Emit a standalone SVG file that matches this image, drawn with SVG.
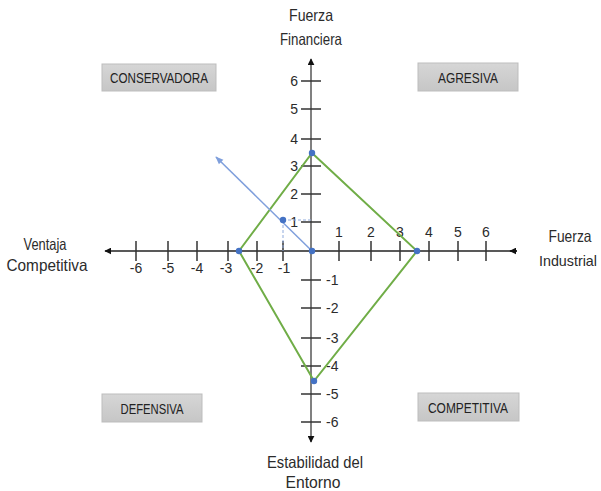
<svg xmlns="http://www.w3.org/2000/svg" width="601" height="491" viewBox="0 0 601 491">
<defs>
<linearGradient id="boxg" x1="0" y1="0" x2="0" y2="1">
<stop offset="0" stop-color="#d6d6d6"/>
<stop offset="1" stop-color="#c6c6c6"/>
</linearGradient>
<marker id="ah" viewBox="0 0 10 10" refX="9" refY="5" markerWidth="7" markerHeight="7" orient="auto-start-reverse" markerUnits="userSpaceOnUse">
<path d="M0,0 L10,5 L0,10 z" fill="#111"/>
</marker>
<marker id="bh" viewBox="0 0 10 10" refX="9" refY="5" markerWidth="8" markerHeight="8" orient="auto" markerUnits="userSpaceOnUse">
<path d="M0,1 L10,5 L0,9 z" fill="#7f9fdc"/>
</marker>
</defs>
<style>
text{font-family:"Liberation Sans",Arial,sans-serif;fill:#2b2b2b}
.t{font-size:16.5px;text-anchor:middle}
.n{font-size:14px}
.c{text-anchor:middle}
.r{text-anchor:end}
.box rect{fill:url(#boxg);stroke:#bdbdbd;stroke-width:1}
.box text{font-size:14px;text-anchor:middle;fill:#222}
.tk{stroke:#333;stroke-width:1.5}
.dot{fill:#4472c4}
</style>
<rect width="601" height="491" fill="#fff"/>

<g id="titles">
<text class="t" x="311" y="21" textLength="44" lengthAdjust="spacingAndGlyphs">Fuerza</text>
<text class="t" x="311" y="45" textLength="62" lengthAdjust="spacingAndGlyphs">Financiera</text>
<text class="t" x="45" y="250" textLength="43" lengthAdjust="spacingAndGlyphs">Ventaja</text>
<text class="t" x="47" y="271" textLength="81" lengthAdjust="spacingAndGlyphs">Competitiva</text>
<text class="t" x="570" y="242" textLength="43" lengthAdjust="spacingAndGlyphs">Fuerza</text>
<text class="t" x="568" y="266" style="font-size:14.5px" textLength="58" lengthAdjust="spacingAndGlyphs">Industrial</text>
<text class="t" x="315" y="468" textLength="96" lengthAdjust="spacingAndGlyphs">Estabilidad del</text>
<text class="t" x="313" y="488" textLength="55" lengthAdjust="spacingAndGlyphs">Entorno</text>
</g>

<g id="conservadora" class="box"><rect x="102" y="64" width="114" height="27"/><text x="159" y="82.5" textLength="98" lengthAdjust="spacingAndGlyphs">CONSERVADORA</text></g>
<g id="agresiva" class="box"><rect x="418" y="63" width="100" height="28"/><text x="468" y="82.5" textLength="60" lengthAdjust="spacingAndGlyphs">AGRESIVA</text></g>
<g id="defensiva" class="box"><rect x="102" y="394" width="100" height="28"/><text x="152" y="413.5" textLength="63" lengthAdjust="spacingAndGlyphs">DEFENSIVA</text></g>
<g id="competitiva" class="box"><rect x="418" y="393" width="101" height="28"/><text x="468" y="412.5" textLength="80" lengthAdjust="spacingAndGlyphs">COMPETITIVA</text></g>

<g id="axes">
<line x1="517" y1="251" x2="105" y2="251" stroke="#222" stroke-width="1.6" marker-end="url(#ah)"/>
<line x1="517" y1="251" x2="510" y2="251" stroke="#222" stroke-width="1.6" marker-end="url(#ah)"/>
<line x1="311" y1="442" x2="311" y2="59" stroke="#808080" stroke-width="2" marker-end="url(#ah)"/>
<line x1="311" y1="436" x2="311" y2="442" stroke="#808080" stroke-width="2" marker-end="url(#ah)"/>
<g class="tk">
<line x1="136" y1="241" x2="136" y2="261"/>
<line x1="168" y1="241" x2="168" y2="261"/>
<line x1="197" y1="241" x2="197" y2="261"/>
<line x1="228" y1="241" x2="228" y2="261"/>
<line x1="257" y1="241" x2="257" y2="261"/>
<line x1="283" y1="241" x2="283" y2="261"/>
<line x1="339" y1="241" x2="339" y2="261"/>
<line x1="371" y1="241" x2="371" y2="261"/>
<line x1="400" y1="241" x2="400" y2="261"/>
<line x1="429" y1="241" x2="429" y2="261"/>
<line x1="458" y1="241" x2="458" y2="261"/>
<line x1="486" y1="241" x2="486" y2="261"/>
<line x1="301" y1="81" x2="321" y2="81"/>
<line x1="301" y1="109" x2="321" y2="109"/>
<line x1="301" y1="139" x2="321" y2="139"/>
<line x1="301" y1="166" x2="321" y2="166"/>
<line x1="301" y1="194" x2="321" y2="194"/>
<line x1="301" y1="222" x2="321" y2="222"/>
<line x1="301" y1="280" x2="321" y2="280"/>
<line x1="301" y1="308" x2="321" y2="308"/>
<line x1="301" y1="338" x2="321" y2="338"/>
<line x1="301" y1="366" x2="321" y2="366"/>
<line x1="301" y1="394" x2="321" y2="394"/>
<line x1="301" y1="422" x2="321" y2="422"/>
</g>
<g class="n c">
<text x="136" y="273">-6</text>
<text x="168" y="273">-5</text>
<text x="197" y="273">-4</text>
<text x="226" y="273">-3</text>
<text x="257" y="273">-2</text>
<text x="284" y="273">-1</text>
<text x="339" y="237">1</text>
<text x="371" y="237">2</text>
<text x="400" y="237">3</text>
<text x="429" y="237">4</text>
<text x="458" y="237">5</text>
<text x="486" y="237">6</text>
</g>
<g class="n r">
<text x="298" y="86">6</text>
<text x="298" y="114">5</text>
<text x="298" y="144">4</text>
<text x="298" y="171">3</text>
<text x="298" y="199">2</text>
<text x="298" y="227">1</text>
</g>
<g class="n">
<text x="326" y="285">-1</text>
<text x="326" y="313">-2</text>
<text x="326" y="343">-3</text>
<text x="326" y="371">-4</text>
<text x="326" y="399">-5</text>
<text x="326" y="427">-6</text>
</g>
</g>

<g id="connectors">
<polygon points="312,153 417,251 314,381 239,251" fill="none" stroke="#70ad47" stroke-width="2"/>
<line x1="283" y1="220" x2="311" y2="220" stroke="#8faadc" stroke-width="1" stroke-dasharray="3,2"/>
<line x1="283" y1="220" x2="283" y2="251" stroke="#8faadc" stroke-width="1" stroke-dasharray="3,2"/>
<line x1="312" y1="251" x2="216" y2="157" stroke="#7f9fdc" stroke-width="1.5" marker-end="url(#bh)"/>
</g>

<g id="points">
<circle class="dot" cx="312" cy="153" r="3.2"/>
<circle class="dot" cx="417" cy="251" r="3.2"/>
<circle class="dot" cx="314" cy="381" r="3.2"/>
<circle class="dot" cx="239" cy="251" r="3.2"/>
<circle class="dot" cx="312" cy="251" r="3.2"/>
<circle class="dot" cx="283" cy="220" r="3.2"/>
</g>
</svg>
